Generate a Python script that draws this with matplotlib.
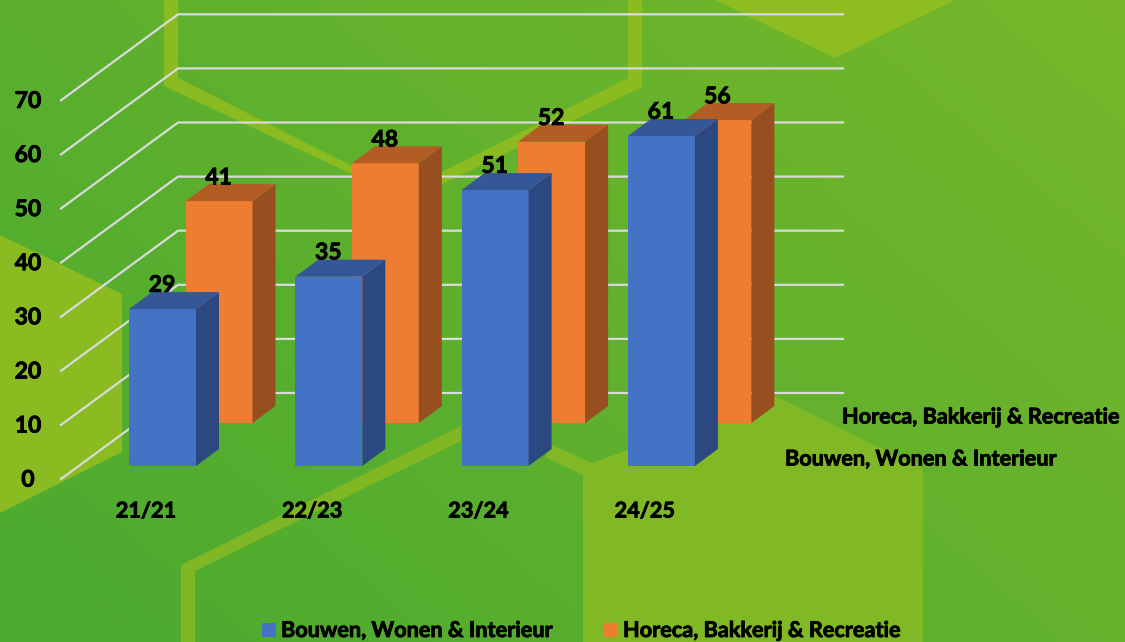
import numpy as np
import matplotlib
matplotlib.use("Agg")
import matplotlib.pyplot as plt
import matplotlib.patheffects as pe
from matplotlib.patches import Polygon, Rectangle
from matplotlib.colors import LinearSegmentedColormap

categories = ["21/21", "22/23", "23/24", "24/25"]
series_a_name = "Bouwen, Wonen & Interieur"
series_b_name = "Horeca, Bakkerij & Recreatie"
series_a = [29, 35, 51, 61]
series_b = [41, 48, 52, 56]
value_ticks = [0, 10, 20, 30, 40, 50, 60, 70]

W, H = 1125, 642
plt.rcParams['font.family'] = ['Lato', 'DejaVu Sans']
fig = plt.figure(figsize=(W/100, H/100), dpi=100)
STROKE = [pe.withStroke(linewidth=0.6, foreground='black')]
TXT = dict(fontsize=15.6, fontweight='bold', color='black', zorder=9, path_effects=STROKE)
TICK = dict(TXT, fontsize=16.5)

# background axes in pixel coordinates
bg = fig.add_axes([0, 0, 1, 1])
bg.set_xlim(0, W); bg.set_ylim(H, 0); bg.axis('off')
grad_x, grad_y = np.meshgrid(np.linspace(0, 1, 200), np.linspace(0, 1, 120))
grad = (grad_x * 0.6 + (1 - grad_y) * 0.4)
cm = LinearSegmentedColormap.from_list('g', ['#4AAA30', '#76B72A'])
bg.imshow(grad, extent=(0, W, H, 0), cmap=cm, aspect='auto', zorder=0)
for pts, col in [
    ([(0, 235), (122, 294), (122, 452), (0, 513)], '#8ABC22'),
    ([(715, 0), (835, 58), (955, 0)], '#8DBD20'),
    ([(583, 642), (583, 475), (545, 457), (552, 445), (592, 463), (775, 396), (923, 469), (923, 642)], '#80B925'),
    ([(164, 0), (178, 0), (178, 78), (360, 170), (360, 178), (164, 86)], '#8ABC22'),
    ([(628, 0), (642, 0), (642, 87), (430, 190), (430, 178), (628, 78)], '#8ABC22'),
    ([(181, 642), (181, 565), (461, 426), (461, 441), (195, 571), (195, 642)], '#7FB824'),
]:
    bg.add_patch(Polygon(pts, closed=True, fc=col, ec='none', zorder=1))

# value axes: same pixel frame, x in pixels, y in chart units
UNIT = 5.41
BASE = 466.0
ax = fig.add_axes([0, 0, 1, 1], facecolor='none')
ax.set_xlim(0, W)
ax.set_ylim((BASE - H) / UNIT, BASE / UNIT)
ax.axis('off')

DX, DY = 23, 17 / UNIT      # depth of a bar
BW = 67
X0, STEP = 129, 166.3
BACK_DX, BACK_DY = 56.5, 43 / UNIT   # offset of the back row
FLOOR_Y = -13 / UNIT         # front edge of the wall
WALL_DX, WALL_DY = 117, 86 / UNIT

for v in value_ticks:
    y0 = FLOOR_Y + v
    y1 = y0 + WALL_DY
    ax.plot([61, 61 + WALL_DX, 843], [y0, y1, y1], color='#DADADA', lw=1.6, zorder=2,
            solid_joinstyle='miter')
    ax.text(28, y0 - 0.2, str(v), ha='center', va='center', **TICK)


def bar3d(left, base, value, front, top, side, z):
    ax.bar(left, value, width=BW, bottom=base, align='edge', color=front, zorder=z)
    r = left + BW
    t = base + value
    ax.add_patch(Polygon([(r, base), (r + DX, base + DY), (r + DX, t + DY), (r, t)], fc=side, ec='none', zorder=z))
    ax.add_patch(Polygon([(left, t), (left + DX, t + DY), (r + DX, t + DY), (r, t)], fc=top, ec='none', zorder=z))


for i, (a, b) in enumerate(zip(series_a, series_b)):
    xa = X0 + i * STEP
    xb = xa + BACK_DX
    bar3d(xb, BACK_DY, b, '#ED7D31', '#B35C24', '#974F1F', 3 + i * 0.1)
    bar3d(xa, 0, a, '#4472C4', '#335797', '#2B4880', 5 + i * 0.1)
    ax.text(xa + 33, a + 4.4, str(a), ha='center', va='center', **TICK)
    ax.text(xb + 33, BACK_DY + b + 4.3, str(b), ha='center', va='center', **TICK)
    ax.text(xa + 17, (BASE - 511) / UNIT, categories[i], ha='center', va='center', **TXT)

ax.text(842, (BASE - 417) / UNIT, series_b_name, ha='left', va='center', **TXT)
ax.text(785, (BASE - 459) / UNIT, series_a_name, ha='left', va='center', **TXT)

# legend
for x, c, name in [(262, '#4472C4', series_a_name), (604, '#ED7D31', series_b_name)]:
    bg.add_patch(Rectangle((x, 623), 14, 14, fc=c, ec='none', zorder=3))
    bg.text(x + 19, 630.5, name, ha='left', va='center', **TXT)

fig.savefig('out.png', dpi=100)
